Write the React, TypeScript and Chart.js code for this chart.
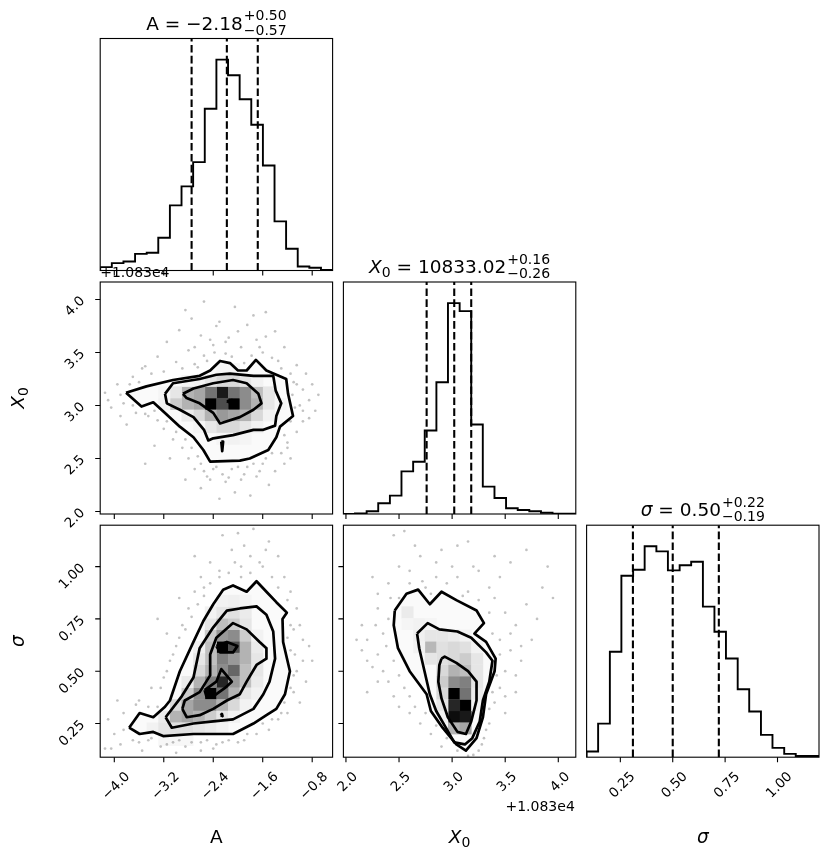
import React, { useEffect, useRef } from "react";
import { Chart, registerables } from "chart.js";

Chart.register(...registerables);

type Pt = [number, number];
type Cell = [number, number, number];

// ---------------- axis ranges & ticks ----------------
const A_RANGE = [-4.228, -0.47];
const X0_RANGE = [1.976, 4.165];
const SIG_RANGE = [0.089, 1.198];
const HIST_RANGE = [0, 1.1];

const A_TICKS = [-4.0, -3.2, -2.4, -1.6, -0.8];
const X0_TICKS = [2.0, 2.5, 3.0, 3.5, 4.0];
const SIG_TICKS = [0.25, 0.5, 0.75, 1.0];
const X0_OFFSET_LABEL = "+1.083e4";
const X0_OFFSET = 10830;

// ---------------- summaries: median, +err, -err ----------------
const A_SUMMARY = [-2.18, 0.5, 0.57];
const X0_SUMMARY = [10833.02, 0.16, 0.26];
const SIG_SUMMARY = [0.5, 0.22, 0.19];

// ---------------- 1D histograms ----------------
const A_EDGES = [-4.228, -4.04, -3.852, -3.664, -3.476, -3.289, -3.101, -2.913, -2.725, -2.537, -2.349, -2.161, -1.973, -1.785, -1.597, -1.409, -1.222, -1.034, -0.846, -0.658, -0.47];
const A_HIST = [0.016, 0.035, 0.043, 0.079, 0.084, 0.155, 0.309, 0.399, 0.514, 0.767, 1.0, 0.926, 0.812, 0.691, 0.498, 0.233, 0.103, 0.019, 0.013, 0.003];

const X0_EDGES = [1.976, 2.085, 2.195, 2.304, 2.414, 2.523, 2.633, 2.742, 2.852, 2.961, 3.071, 3.18, 3.289, 3.399, 3.508, 3.618, 3.727, 3.837, 3.946, 4.056, 4.165];
const X0_HIST = [0.0, 0.003, 0.013, 0.051, 0.087, 0.202, 0.248, 0.396, 0.625, 1.0, 0.962, 0.424, 0.13, 0.076, 0.027, 0.019, 0.013, 0.006, 0.002, 0.001];

const SIG_EDGES = [0.089, 0.144, 0.2, 0.255, 0.311, 0.366, 0.422, 0.477, 0.533, 0.588, 0.644, 0.699, 0.754, 0.81, 0.865, 0.921, 0.976, 1.032, 1.087, 1.143, 1.198];
const SIG_HIST = [0.027, 0.159, 0.5, 0.86, 0.889, 1.0, 0.976, 0.886, 0.91, 0.927, 0.714, 0.595, 0.468, 0.322, 0.217, 0.106, 0.044, 0.016, 0.006, 0.006];

// ---------------- A vs X0 ----------------
const AX_C1: Pt[] = [[-3.81, 3.12], [-3.48, 3.18], [-3.05, 3.24], [-2.62, 3.28], [-2.45, 3.33], [-2.29, 3.42], [-2.13, 3.4], [-2.0, 3.33], [-1.86, 3.33], [-1.71, 3.43], [-1.54, 3.33], [-1.22, 3.25], [-1.19, 3.11], [-1.11, 2.9], [-1.32, 2.8], [-1.38, 2.7], [-1.51, 2.58], [-1.81, 2.5], [-1.97, 2.48], [-2.45, 2.47], [-2.56, 2.58], [-2.72, 2.7], [-2.94, 2.8], [-3.18, 2.93], [-3.37, 3.03], [-3.56, 2.99]];
const AX_C2: Pt[] = [[-3.18, 3.11], [-3.05, 3.21], [-2.62, 3.25], [-2.35, 3.29], [-2.13, 3.3], [-1.75, 3.28], [-1.43, 3.28], [-1.39, 3.14], [-1.3, 3.02], [-1.38, 2.9], [-1.4, 2.81], [-1.59, 2.77], [-1.75, 2.77], [-2.08, 2.72], [-2.4, 2.69], [-2.48, 2.67], [-2.55, 2.77], [-2.62, 2.82], [-2.72, 2.89], [-2.94, 2.96], [-3.15, 3.02]];
const AX_C3: Pt[] = [[-2.89, 3.11], [-2.72, 3.16], [-2.4, 3.21], [-2.08, 3.24], [-1.86, 3.21], [-1.67, 3.11], [-1.62, 3.02], [-1.75, 2.96], [-1.97, 2.89], [-2.29, 2.83], [-2.4, 2.93], [-2.62, 3.02], [-2.83, 3.07]];
const AX_C4: Pt[] = [[-2.18, 3.04], [-2.1, 3.05], [-2.02, 3.04], [-2.1, 3.02]];
const AX_C5: Pt[] = [[-2.27, 2.66], [-2.255, 2.57], [-2.24, 2.66]];
const AX_CELLS: Cell[] = [[9, 9, 1.0], [11, 9, 1.0], [10, 10, 0.9], [10, 9, 0.7], [9, 10, 0.55], [11, 10, 0.55], [12, 9, 0.45], [12, 10, 0.45], [8, 9, 0.35], [8, 10, 0.35], [7, 9, 0.3], [7, 10, 0.3], [6, 9, 0.2], [6, 10, 0.1], [13, 9, 0.3], [13, 10, 0.25], [14, 9, 0.1], [14, 10, 0.1], [5, 9, 0.05], [5, 10, 0.04], [15, 9, 0.04], [8, 8, 0.15], [9, 8, 0.3], [10, 8, 0.4], [11, 8, 0.35], [12, 8, 0.3], [13, 8, 0.15], [7, 8, 0.08], [14, 8, 0.05], [9, 7, 0.1], [10, 7, 0.15], [11, 7, 0.15], [12, 7, 0.1], [13, 7, 0.05], [8, 7, 0.04], [8, 11, 0.05], [9, 11, 0.1], [10, 11, 0.15], [11, 11, 0.15], [12, 11, 0.1], [13, 11, 0.05], [7, 11, 0.04], [10, 6, 0.04], [11, 6, 0.05], [12, 6, 0.04], [10, 12, 0.04], [11, 12, 0.04]];
const AX_PTS: Pt[] = [[-2.55, 3.98], [-2.05, 3.93], [-1.55, 3.88], [-2.75, 3.82], [-2.3, 3.79], [-1.85, 3.76], [-2.95, 3.71], [-1.4, 3.7], [-2.6, 3.66], [-2.15, 3.64], [-1.7, 3.62], [-3.15, 3.6], [-2.4, 3.57], [-1.95, 3.55], [-1.25, 3.55], [-2.8, 3.52], [-2.55, 3.47], [-3.3, 3.46], [-1.6, 3.5], [-2.2, 3.49], [-1.35, 3.42], [-3.0, 3.41], [-2.7, 3.39], [-1.05, 3.38], [-3.5, 3.37], [-2.35, 3.75], [-1.75, 3.85], [-2.85, 3.9], [-4.15, 3.12], [-3.95, 3.2], [-3.85, 3.02], [-4.05, 2.98], [-3.7, 3.27], [-3.65, 2.93], [-3.45, 2.9], [-3.8, 2.82], [-3.3, 2.86], [-3.55, 3.35], [-3.2, 2.78], [-3.05, 2.68], [-3.35, 2.62], [-2.9, 2.6], [-3.1, 2.5], [-2.8, 2.5], [-3.5, 2.45], [-2.7, 2.4], [-2.55, 2.38], [-2.35, 2.42], [-2.1, 2.4], [-1.85, 2.42], [-1.6, 2.45], [-2.45, 2.3], [-2.2, 2.28], [-1.95, 2.3], [-1.7, 2.33], [-2.6, 2.22], [-2.05, 2.18], [-1.5, 2.25], [-2.3, 2.12], [-1.8, 2.15], [-1.4, 2.38], [-2.85, 2.3], [-1.3, 2.55], [-1.2, 2.65], [-1.05, 2.75], [-0.95, 2.85], [-1.0, 3.0], [-0.85, 3.05], [-0.95, 3.15], [-1.1, 3.22], [-0.75, 2.95], [-0.8, 3.2], [-1.15, 2.5], [-0.9, 3.3],
  [-3.2, 3.32], [-2.9, 3.35], [-2.65, 3.36], [-2.5, 3.42], [-2.38, 3.5], [-2.1, 3.46], [-1.9, 3.4], [-1.78, 3.47], [-1.65, 3.55], [-1.45, 3.45], [-1.3, 3.35], [-2.2, 3.6], [-2.0, 3.7], [-2.45, 3.62], [-1.55, 3.65], [-2.7, 3.55], [-3.4, 3.3], [-3.75, 3.2], [-1.15, 3.3], [-3.9, 3.1], [-3.7, 3.0], [-3.5, 2.92], [-3.35, 2.95], [-3.15, 2.85], [-3.0, 2.75], [-2.85, 2.68], [-2.75, 2.6], [-2.65, 2.52], [-2.6, 2.45], [-3.9, 2.9], [-4.1, 3.05], [-3.6, 3.22], [-2.4, 2.4], [-2.25, 2.35], [-2.0, 2.42], [-1.75, 2.45], [-1.55, 2.5], [-1.45, 2.55], [-1.9, 2.35], [-2.15, 2.32], [-1.65, 2.38], [-2.5, 2.33], [-1.25, 2.45], [-1.25, 2.72], [-1.15, 2.85], [-1.08, 2.98], [-1.12, 3.1], [-1.05, 3.2], [-0.95, 2.95], [-1.2, 2.6], [-0.85, 2.88], [-0.7, 3.1]];

// ---------------- A vs sigma ----------------
const AS_C1: Pt[] = [[-3.76, 0.23], [-3.59, 0.3], [-3.37, 0.28], [-3.18, 0.33], [-3.1, 0.36], [-2.94, 0.5], [-2.72, 0.64], [-2.56, 0.74], [-2.4, 0.82], [-2.24, 0.89], [-2.08, 0.91], [-1.86, 0.88], [-1.7, 0.93], [-1.54, 0.88], [-1.38, 0.83], [-1.21, 0.78], [-1.28, 0.75], [-1.27, 0.64], [-1.16, 0.5], [-1.24, 0.39], [-1.38, 0.32], [-1.54, 0.29], [-1.75, 0.25], [-2.08, 0.2], [-2.4, 0.2], [-2.72, 0.2], [-3.21, 0.19], [-3.37, 0.21], [-3.59, 0.2]];
const AS_C2: Pt[] = [[-3.17, 0.28], [-2.91, 0.38], [-2.72, 0.47], [-2.62, 0.61], [-2.4, 0.71], [-2.18, 0.79], [-1.97, 0.8], [-1.7, 0.81], [-1.54, 0.77], [-1.43, 0.69], [-1.4, 0.56], [-1.49, 0.45], [-1.59, 0.39], [-1.75, 0.32], [-2.08, 0.27], [-2.4, 0.26], [-2.72, 0.25], [-3.07, 0.23]];
const AS_C3: Pt[] = [[-2.9, 0.32], [-2.86, 0.36], [-2.62, 0.4], [-2.45, 0.48], [-2.45, 0.58], [-2.35, 0.66], [-2.08, 0.73], [-1.86, 0.7], [-1.65, 0.64], [-1.54, 0.61], [-1.54, 0.56], [-1.7, 0.53], [-1.86, 0.45], [-1.97, 0.39], [-2.18, 0.36], [-2.4, 0.32], [-2.62, 0.29], [-2.83, 0.28]];
const AS_C4: Pt[] = [[-2.35, 0.62], [-2.18, 0.64], [-2.01, 0.62], [-2.08, 0.59], [-2.29, 0.59]];
const AS_C5: Pt[] = [[-2.54, 0.41], [-2.35, 0.45], [-2.27, 0.51], [-2.1, 0.45], [-2.21, 0.42], [-2.4, 0.38], [-2.51, 0.38]];
const AS_C6: Pt[] = [[-2.28, 0.29], [-2.26, 0.296], [-2.25, 0.285]];
const AS_CELLS: Cell[] = [[9, 5, 1.0], [10, 9, 1.0], [11, 9, 0.7], [10, 6, 0.85], [9, 6, 0.5], [10, 7, 0.45], [11, 7, 0.6], [10, 8, 0.5], [11, 8, 0.4], [12, 8, 0.3], [9, 7, 0.3], [9, 8, 0.25], [11, 6, 0.4], [12, 6, 0.25], [11, 5, 0.3], [10, 5, 0.55], [8, 5, 0.45], [6, 4, 0.15], [7, 4, 0.35], [8, 4, 0.45], [9, 4, 0.45], [10, 4, 0.3], [11, 4, 0.15], [5, 3, 0.08], [6, 3, 0.3], [7, 3, 0.35], [8, 3, 0.3], [9, 3, 0.2], [10, 3, 0.1], [11, 3, 0.05], [4, 2, 0.05], [5, 2, 0.1], [6, 2, 0.12], [7, 2, 0.12], [8, 2, 0.1], [9, 2, 0.08], [10, 2, 0.05], [5, 1, 0.03], [6, 1, 0.03], [7, 1, 0.03], [8, 6, 0.3], [12, 7, 0.25], [8, 7, 0.15], [9, 9, 0.25], [12, 9, 0.3], [9, 10, 0.2], [10, 10, 0.4], [11, 10, 0.45], [12, 10, 0.2], [9, 11, 0.1], [10, 11, 0.25], [11, 11, 0.2], [12, 11, 0.1], [9, 12, 0.05], [10, 12, 0.1], [11, 12, 0.12], [12, 12, 0.08], [10, 13, 0.05], [11, 13, 0.06], [12, 13, 0.04], [7, 5, 0.2], [12, 5, 0.1], [13, 8, 0.1], [13, 6, 0.08], [13, 7, 0.1], [8, 8, 0.1], [13, 9, 0.08], [7, 6, 0.08], [13, 5, 0.05], [12, 4, 0.05], [8, 9, 0.06], [13, 10, 0.05]];
const AS_PTS: Pt[] = [[-4.15, 0.13], [-4.0, 0.2], [-4.1, 0.27], [-3.9, 0.15], [-3.85, 0.3], [-3.7, 0.17], [-3.6, 0.36], [-3.55, 0.12], [-3.45, 0.17], [-3.4, 0.42], [-3.3, 0.33], [-3.25, 0.14], [-3.05, 0.16], [-3.2, 0.47], [-3.1, 0.55], [-2.85, 0.14], [-2.6, 0.16], [-2.35, 0.15], [-2.15, 0.17], [-3.95, 0.36], [-3.0, 0.62], [-2.9, 0.72], [-2.8, 0.8], [-2.7, 0.88], [-2.6, 0.95], [-3.15, 0.68], [-2.95, 0.85], [-2.45, 1.02], [-2.7, 1.05], [-2.3, 0.98], [-2.1, 1.08], [-2.25, 1.15], [-2.55, 0.9], [-3.3, 0.75], [-1.95, 1.0], [-1.8, 1.05], [-1.6, 1.0], [-1.5, 1.12], [-1.75, 1.18], [-1.35, 1.05], [-2.0, 1.16], [-1.25, 0.95], [-1.15, 0.88], [-1.05, 0.8], [-1.1, 0.7], [-0.95, 0.65], [-1.15, 0.6], [-1.05, 0.5], [-0.9, 0.45], [-1.1, 0.4], [-1.2, 0.3], [-1.35, 0.27], [-1.0, 0.35], [-0.8, 0.55], [-1.5, 0.22], [-1.7, 0.2], [-1.9, 0.17],
  [-3.25, 0.42], [-3.15, 0.5], [-3.05, 0.58], [-2.95, 0.66], [-2.85, 0.7], [-2.75, 0.76], [-2.65, 0.82], [-2.55, 0.86], [-2.45, 0.92], [-2.3, 0.95], [-2.15, 0.97], [-3.45, 0.33], [-3.65, 0.34], [-1.95, 0.95], [-1.8, 0.97], [-1.65, 1.02], [-1.45, 0.95], [-1.35, 0.9], [-1.9, 1.1], [-2.05, 1.02], [-1.55, 1.08], [-1.2, 0.84], [-1.15, 0.72], [-1.2, 0.66], [-1.08, 0.58], [-1.1, 0.48], [-1.15, 0.42], [-1.25, 0.35], [-1.3, 0.3], [-1.45, 0.27], [-1.6, 0.25], [-0.95, 0.55], [-1.0, 0.72], [-0.85, 0.62], [-1.85, 0.2], [-2.0, 0.16], [-2.25, 0.16], [-2.5, 0.17], [-2.75, 0.16], [-2.95, 0.17], [-3.15, 0.15], [-3.4, 0.18], [-3.6, 0.16], [-3.85, 0.22], [-4.05, 0.13], [-2.6, 0.12], [-3.0, 0.11], [-2.4, 0.13]];

// ---------------- X0 vs sigma ----------------
const XS_C1: Pt[] = [[2.46, 0.79], [2.57, 0.87], [2.68, 0.89], [2.79, 0.82], [2.9, 0.88], [3.04, 0.84], [3.23, 0.79], [3.3, 0.73], [3.21, 0.68], [3.32, 0.64], [3.41, 0.56], [3.4, 0.5], [3.32, 0.39], [3.29, 0.28], [3.23, 0.18], [3.13, 0.12], [3.04, 0.15], [2.91, 0.23], [2.8, 0.31], [2.76, 0.39], [2.6, 0.5], [2.49, 0.61], [2.45, 0.72]];
const XS_C2: Pt[] = [[2.67, 0.68], [2.77, 0.73], [2.88, 0.7], [3.05, 0.69], [3.18, 0.66], [3.32, 0.59], [3.38, 0.55], [3.35, 0.45], [3.29, 0.36], [3.26, 0.26], [3.19, 0.18], [3.12, 0.15], [3.02, 0.16], [2.93, 0.24], [2.85, 0.31], [2.79, 0.39], [2.74, 0.5], [2.69, 0.61]];
const XS_C3: Pt[] = [[2.9, 0.56], [2.93, 0.57], [3.04, 0.54], [3.15, 0.5], [3.23, 0.45], [3.23, 0.36], [3.18, 0.26], [3.13, 0.2], [3.05, 0.21], [2.96, 0.28], [2.9, 0.37], [2.87, 0.45], [2.88, 0.53]];
const XS_CELLS: Cell[] = [[9, 5, 1.0], [10, 4, 1.0], [9, 3, 0.95], [10, 3, 0.9], [9, 4, 0.85], [10, 5, 0.55], [9, 6, 0.45], [10, 6, 0.5], [9, 7, 0.3], [10, 7, 0.25], [8, 7, 0.15], [8, 6, 0.2], [8, 5, 0.15], [8, 8, 0.12], [9, 8, 0.15], [10, 8, 0.2], [11, 8, 0.1], [9, 2, 0.3], [10, 2, 0.35], [7, 9, 0.28], [8, 9, 0.12], [9, 9, 0.15], [10, 9, 0.12], [11, 9, 0.05], [6, 10, 0.06], [7, 10, 0.1], [8, 10, 0.1], [9, 10, 0.08], [10, 10, 0.05], [5, 12, 0.08], [5, 11, 0.04], [6, 11, 0.05], [7, 11, 0.04], [8, 4, 0.1], [11, 4, 0.05], [8, 3, 0.05], [11, 5, 0.08], [11, 6, 0.1], [11, 7, 0.1], [7, 8, 0.1], [6, 9, 0.05]];
const XS_PTS: Pt[] = [[2.45, 1.15], [2.55, 1.17], [2.7, 1.05], [2.9, 1.08], [3.15, 1.12], [3.4, 1.05], [2.6, 0.98], [2.85, 0.95], [3.05, 0.95], [3.25, 0.98], [3.55, 1.02], [3.7, 1.08], [2.4, 0.92], [3.0, 1.0], [2.25, 0.95], [3.35, 0.9], [2.75, 0.9], [3.9, 1.0], [3.15, 0.88], [2.15, 0.72], [2.2, 0.65], [2.3, 0.8], [2.3, 0.58], [2.35, 0.5], [2.4, 0.45], [2.25, 0.52], [2.2, 0.4], [2.45, 0.38], [2.5, 0.33], [2.35, 0.68], [2.15, 0.6], [2.42, 0.85], [2.3, 0.87], [3.4, 0.85], [3.5, 0.78], [3.6, 0.72], [3.45, 0.65], [3.55, 0.6], [3.65, 0.55], [3.5, 0.5], [3.7, 0.82], [3.8, 0.75], [3.75, 0.65], [3.45, 0.42], [3.4, 0.35], [3.5, 0.3], [3.85, 0.9], [3.95, 0.85], [3.6, 0.4], [3.35, 0.25], [2.7, 0.25], [2.8, 0.2], [2.9, 0.14], [3.2, 0.1], [3.3, 0.18], [2.6, 0.3], [3.25, 0.12],
  [2.5, 0.85], [2.6, 0.92], [2.72, 0.93], [2.8, 0.87], [2.95, 0.92], [3.1, 0.86], [3.25, 0.84], [3.35, 0.78], [2.85, 1.02], [3.2, 1.0], [2.5, 1.0], [3.45, 0.95], [2.65, 1.1], [3.05, 1.1], [2.4, 0.75], [2.38, 0.62], [2.45, 0.55], [2.5, 0.48], [2.55, 0.42], [2.6, 0.38], [2.65, 0.33], [2.3, 0.45], [2.2, 0.55], [2.28, 0.72], [2.1, 0.65], [3.45, 0.58], [3.42, 0.48], [3.38, 0.4], [3.35, 0.32], [3.32, 0.22], [3.55, 0.68], [3.6, 0.48], [3.65, 0.62], [3.38, 0.68], [3.5, 0.38], [2.85, 0.24], [2.95, 0.18], [3.05, 0.12], [3.15, 0.095], [3.28, 0.15], [2.75, 0.3]];

// ---------------- layout ----------------
const W = 830;
const H = 858;
const COL_X = [100.2, 343.4, 586.6];
const ROW_Y = [38.5, 282, 525.2];
const PW = 232.4;
const PH = 232;
const FONT = '"DejaVu Sans", sans-serif';
const MAIN = 18.5;
const SCRIPT = 14;
const TICK = 13.5;
const OFFSET_FONT = 14;

type Seg = { t?: string; it?: boolean; sub?: boolean; stack?: [string, string] };

const minus = (s: string) => s.replace("-", "\u2212");
const fmt = (v: number, d: number) => minus(v.toFixed(d));

function segFont(s: Seg, small = false) {
  return `${s.it ? "italic " : ""}${small || s.sub ? SCRIPT : MAIN}px ${FONT}`;
}

function drawSegs(ctx: CanvasRenderingContext2D, segs: Seg[], x: number, base: number, align: "center" | "left") {
  const widths = segs.map((s) => {
    if (s.stack) {
      ctx.font = segFont(s, true);
      return Math.max(ctx.measureText(s.stack[0]).width, ctx.measureText(s.stack[1]).width) + 1;
    }
    ctx.font = segFont(s);
    return ctx.measureText(s.t || "").width;
  });
  const total = widths.reduce((a, b) => a + b, 0);
  let cx = align === "center" ? x - total / 2 : x;
  ctx.textAlign = "left";
  ctx.textBaseline = "alphabetic";
  segs.forEach((s, i) => {
    if (s.stack) {
      ctx.font = segFont(s, true);
      ctx.fillText(s.stack[0], cx + 1, base - 9.5);
      ctx.fillText(s.stack[1], cx + 1, base + 5);
    } else {
      ctx.font = segFont(s);
      ctx.fillText(s.t || "", cx, base + (s.sub ? 4 : 0));
    }
    cx += widths[i];
  });
}

function summaryTitle(lead: Seg[], sm: number[], decimals: number): Seg[] {
  return [...lead, { t: " = " + fmt(sm[0], decimals) }, { stack: ["+" + sm[1].toFixed(2), "\u2212" + sm[2].toFixed(2)] }];
}

const A_LABEL: Seg[] = [{ t: "A" }];
const X0_LABEL: Seg[] = [{ t: "X", it: true }, { t: "0", sub: true }];
const SIG_LABEL: Seg[] = [{ t: "\u03c3", it: true }];

interface PanelCfg {
  key: string;
  col: number;
  row: number;
  xr: number[];
  yr: number[];
  xTicks: number[];
  xDec?: number;
  yTicks?: number[];
  yDec?: number;
  title?: Seg[];
  xTitle?: Seg[];
  yTitle?: Seg[];
  offsetTop?: boolean;
  offsetBottom?: boolean;
  cells?: Cell[];
  ex?: number[];
  ey?: number[];
  fillPoly?: Pt[];
  datasets: any[];
}

const xy = (p: Pt[]) => p.map(([x, y]) => ({ x, y }));
const closed = (p: Pt[]) => xy([...p, p[0]]);

function stepPoints(edges: number[], h: number[]) {
  const pts: Pt[] = [[edges[0], 0]];
  h.forEach((v, i) => {
    pts.push([edges[i], v]);
    pts.push([edges[i + 1], v]);
  });
  pts.push([edges[edges.length - 1], 0]);
  return xy(pts);
}

function histDatasets(edges: number[], h: number[], quants: number[]) {
  const ds: any[] = quants.map((q) => ({
    data: xy([[q, HIST_RANGE[0]], [q, HIST_RANGE[1]]]),
    showLine: true,
    borderColor: "#000",
    borderWidth: 2.1,
    borderDash: [7.6, 3.3],
    pointRadius: 0,
  }));
  ds.push({ data: stepPoints(edges, h), showLine: true, borderColor: "#000", borderWidth: 1.9, pointRadius: 0, tension: 0 });
  return ds;
}

function densityDatasets(contours: Pt[][], pts: Pt[]) {
  const ds: any[] = contours.map((c) => ({
    data: closed(c),
    showLine: true,
    borderColor: "#000",
    borderWidth: 2.7,
    pointRadius: 0,
    tension: 0,
    borderJoinStyle: "round",
  }));
  ds.push({ data: xy(pts), showLine: false, pointRadius: 1.35, pointBackgroundColor: "rgba(0,0,0,0.24)", pointBorderWidth: 0 });
  return ds;
}

const quantLines = (sm: number[], offset = 0) => [sm[0] - sm[2] - offset, sm[0] - offset, sm[0] + sm[1] - offset];

const PANELS: PanelCfg[] = [
  {
    key: "a", col: 0, row: 0, xr: A_RANGE, yr: HIST_RANGE, xTicks: A_TICKS,
    title: summaryTitle(A_LABEL, A_SUMMARY, 2),
    datasets: histDatasets(A_EDGES, A_HIST, quantLines(A_SUMMARY)),
  },
  {
    key: "ax", col: 0, row: 1, xr: A_RANGE, yr: X0_RANGE, xTicks: A_TICKS, yTicks: X0_TICKS, yDec: 1,
    yTitle: X0_LABEL, offsetTop: true, cells: AX_CELLS, ex: A_EDGES, ey: X0_EDGES, fillPoly: AX_C1,
    datasets: densityDatasets([AX_C1, AX_C2, AX_C3, AX_C4, AX_C5], AX_PTS),
  },
  {
    key: "x", col: 1, row: 1, xr: X0_RANGE, yr: HIST_RANGE, xTicks: X0_TICKS,
    title: summaryTitle(X0_LABEL, X0_SUMMARY, 2),
    datasets: histDatasets(X0_EDGES, X0_HIST, quantLines(X0_SUMMARY, X0_OFFSET)),
  },
  {
    key: "as", col: 0, row: 2, xr: A_RANGE, yr: SIG_RANGE, xTicks: A_TICKS, xDec: 1, yTicks: SIG_TICKS, yDec: 2,
    xTitle: A_LABEL, yTitle: SIG_LABEL, cells: AS_CELLS, ex: A_EDGES, ey: SIG_EDGES, fillPoly: AS_C1,
    datasets: densityDatasets([AS_C1, AS_C2, AS_C3, AS_C4, AS_C5, AS_C6], AS_PTS),
  },
  {
    key: "xs", col: 1, row: 2, xr: X0_RANGE, yr: SIG_RANGE, xTicks: X0_TICKS, xDec: 1, yTicks: SIG_TICKS,
    xTitle: X0_LABEL, offsetBottom: true, cells: XS_CELLS, ex: X0_EDGES, ey: SIG_EDGES, fillPoly: XS_C1,
    datasets: densityDatasets([XS_C1, XS_C2, XS_C3], XS_PTS),
  },
  {
    key: "s", col: 2, row: 2, xr: SIG_RANGE, yr: HIST_RANGE, xTicks: SIG_TICKS, xDec: 2,
    title: summaryTitle(SIG_LABEL, SIG_SUMMARY, 2), xTitle: SIG_LABEL,
    datasets: histDatasets(SIG_EDGES, SIG_HIST, quantLines(SIG_SUMMARY)),
  },
];

function makeDecor(cfg: PanelCfg) {
  return {
    id: "decor_" + cfg.key,
    beforeDatasetsDraw(chart: any) {
      const ctx: CanvasRenderingContext2D = chart.ctx;
      const xs = chart.scales.x;
      const ys = chart.scales.y;
      const ca = chart.chartArea;
      ctx.save();
      ctx.beginPath();
      ctx.rect(ca.left, ca.top, ca.right - ca.left, ca.bottom - ca.top);
      ctx.clip();
      if (cfg.fillPoly) {
        ctx.beginPath();
        cfg.fillPoly.forEach(([x, y], i) => {
          const px = xs.getPixelForValue(x);
          const py = ys.getPixelForValue(y);
          if (i === 0) ctx.moveTo(px, py);
          else ctx.lineTo(px, py);
        });
        ctx.closePath();
        ctx.fillStyle = "rgb(250,250,250)";
        ctx.fill();
      }
      if (cfg.cells && cfg.ex && cfg.ey) {
        for (const [i, j, v] of cfg.cells) {
          const x0 = xs.getPixelForValue(cfg.ex[i]);
          const x1 = xs.getPixelForValue(cfg.ex[i + 1]);
          const y0 = ys.getPixelForValue(cfg.ey[j]);
          const y1 = ys.getPixelForValue(cfg.ey[j + 1]);
          const g = Math.round(255 * (1 - v));
          ctx.fillStyle = `rgb(${g},${g},${g})`;
          ctx.fillRect(Math.min(x0, x1), Math.min(y0, y1), Math.abs(x1 - x0) + 0.4, Math.abs(y1 - y0) + 0.4);
        }
      }
      ctx.restore();
    },
    afterDraw(chart: any) {
      const ctx: CanvasRenderingContext2D = chart.ctx;
      const xs = chart.scales.x;
      const ys = chart.scales.y;
      const ca = chart.chartArea;
      ctx.save();
      ctx.fillStyle = "#000";
      ctx.strokeStyle = "#000";
      ctx.lineWidth = 1.1;
      ctx.strokeRect(ca.left, ca.top, ca.right - ca.left, ca.bottom - ca.top);
      const capH = TICK * 0.73;
      ctx.beginPath();
      for (const v of cfg.xTicks) {
        const px = xs.getPixelForValue(v);
        ctx.moveTo(px, ca.bottom);
        ctx.lineTo(px, ca.bottom + 5);
      }
      for (const v of cfg.yTicks || []) {
        const py = ys.getPixelForValue(v);
        ctx.moveTo(ca.left - 5, py);
        ctx.lineTo(ca.left, py);
      }
      ctx.stroke();
      ctx.font = `${TICK}px ${FONT}`;
      ctx.textAlign = "center";
      ctx.textBaseline = "alphabetic";
      if (cfg.xDec !== undefined) {
        for (const v of cfg.xTicks) {
          const t = fmt(v, cfg.xDec);
          const w = ctx.measureText(t).width;
          const e = (w + capH) * Math.SQRT1_2;
          const cx = xs.getPixelForValue(v) + 1;
          const cy = ca.bottom + 13 + e / 2;
          ctx.save();
          ctx.translate(cx, cy);
          ctx.rotate(-Math.PI / 4);
          ctx.fillText(t, 0, capH / 2);
          ctx.restore();
        }
      }
      if (cfg.yTicks && cfg.yDec !== undefined) {
        for (const v of cfg.yTicks) {
          const t = fmt(v, cfg.yDec);
          const w = ctx.measureText(t).width;
          const e = (w + capH) * Math.SQRT1_2;
          const cx = ca.left - 15 - e / 2;
          const cy = ys.getPixelForValue(v) - 5 + e / 2;
          ctx.save();
          ctx.translate(cx, cy);
          ctx.rotate(-Math.PI / 4);
          ctx.fillText(t, 0, capH / 2);
          ctx.restore();
        }
      }
      ctx.font = `${OFFSET_FONT}px ${FONT}`;
      if (cfg.offsetTop) {
        ctx.textAlign = "left";
        ctx.fillText(X0_OFFSET_LABEL, ca.left, ca.top - 5.5);
      }
      if (cfg.offsetBottom) {
        ctx.textAlign = "right";
        ctx.fillText(X0_OFFSET_LABEL, ca.right - 1, 811);
      }
      const midX = (ca.left + ca.right) / 2;
      const midY = (ca.top + ca.bottom) / 2;
      if (cfg.title) drawSegs(ctx, cfg.title, midX, ca.top - 9, "center");
      if (cfg.xTitle) drawSegs(ctx, cfg.xTitle, midX, 842.5, "center");
      if (cfg.yTitle) {
        ctx.save();
        ctx.translate(24, midY);
        ctx.rotate(-Math.PI / 2);
        drawSegs(ctx, cfg.yTitle, 0, 0, "center");
        ctx.restore();
      }
      ctx.restore();
    },
  };
}

function Panel({ cfg }: { cfg: PanelCfg }) {
  const ref = useRef<HTMLCanvasElement>(null);
  useEffect(() => {
    const left = COL_X[cfg.col];
    const top = ROW_Y[cfg.row];
    const chart = new Chart(ref.current as HTMLCanvasElement, {
      type: "scatter",
      data: { datasets: cfg.datasets },
      options: {
        animation: false,
        responsive: false,
        events: [],
        layout: { padding: { left, top, right: W - left - PW, bottom: H - top - PH } },
        scales: {
          x: { type: "linear", min: cfg.xr[0], max: cfg.xr[1], display: false },
          y: { type: "linear", min: cfg.yr[0], max: cfg.yr[1], display: false },
        },
        plugins: { legend: { display: false }, tooltip: { enabled: false } },
      },
      plugins: [makeDecor(cfg)],
    } as any);
    return () => chart.destroy();
  }, [cfg]);
  return <canvas ref={ref} width={W} height={H} style={{ position: "absolute", left: 0, top: 0, width: W, height: H }} />;
}

export default function App() {
  return (
    <div style={{ position: "absolute", left: 0, top: 0, width: W, height: H, background: "#fff", overflow: "hidden" }}>
      {PANELS.map((p) => (
        <Panel key={p.key} cfg={p} />
      ))}
    </div>
  );
}
